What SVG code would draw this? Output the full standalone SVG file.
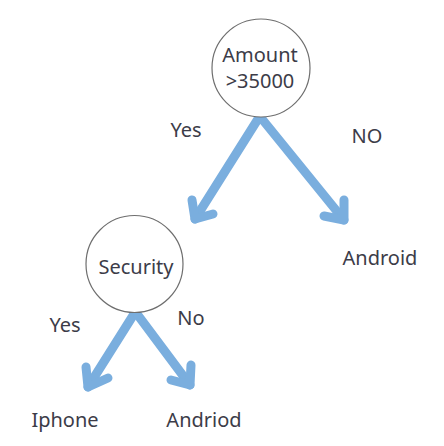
<svg xmlns="http://www.w3.org/2000/svg" width="444" height="446" viewBox="0 0 444 446">
<style>
.node circle{fill:#fff;stroke:#6e6e6e;stroke-width:1.2}
text{font-family:"Noto Sans","Open Sans",sans-serif;font-size:20px;fill:#3c3c48}
.c{text-anchor:middle}
.arr{fill:none;stroke:#7aaede;stroke-width:9;stroke-linecap:round;stroke-linejoin:round}
</style>
<rect width="444" height="446" fill="#fff"/>
<g id="connectors">
<g id="e1"><line class="arr" x1="258" y1="119" x2="195" y2="219"/><polyline class="arr" points="192,200 195,219 213,214"/></g>
<g id="e2"><line class="arr" x1="262" y1="119" x2="344" y2="220"/><polyline class="arr" points="344,200 344,220 324,216"/></g>
<g id="e3"><line class="arr" x1="134" y1="314" x2="88" y2="387"/><polyline class="arr" points="86,367 88,387 108,378"/></g>
<g id="e4"><line class="arr" x1="137" y1="314" x2="190" y2="385"/><polyline class="arr" points="191,365 190,385 171,380"/></g>
<text x="186" y="137" class="c">Yes</text>
<text x="367" y="143" class="c">NO</text>
<text x="65" y="332" class="c">Yes</text>
<text x="191" y="325" class="c">No</text>
</g>
<g id="amount" class="node"><circle cx="261" cy="68" r="49"/><text x="260" y="62" class="c">Amount</text><text x="260" y="88" class="c">&gt;35000</text></g>
<g id="security" class="node"><circle cx="134.5" cy="264" r="48.5"/><text x="136" y="274" class="c">Security</text></g>
<g id="android"><text x="380" y="265" class="c">Android</text></g>
<g id="iphone"><text x="65" y="427" class="c">Iphone</text></g>
<g id="andriod"><text x="204" y="427" class="c">Andriod</text></g>
</svg>
